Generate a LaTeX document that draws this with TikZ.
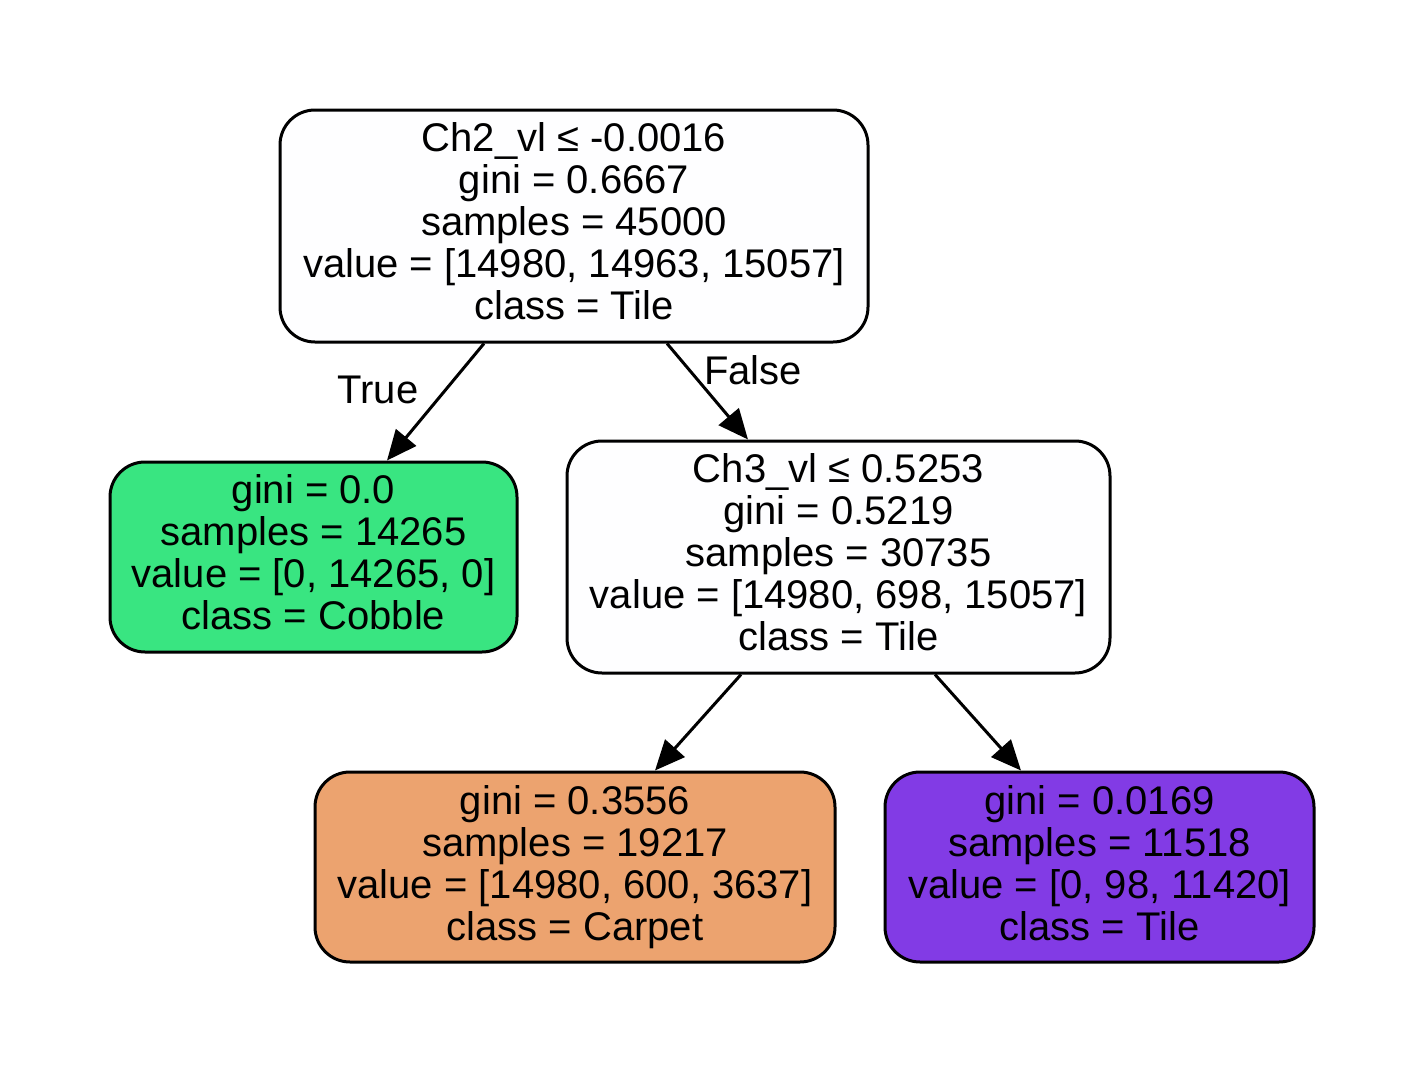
\documentclass[tikz,border=0pt]{standalone}
\usepackage{fontspec}
\setmainfont{Liberation Sans}
\usetikzlibrary{arrows.meta}
\definecolor{rootc}{RGB}{254,254,255}
\definecolor{cobblec}{RGB}{57,229,129}
\definecolor{carpetc}{RGB}{236,163,111}
\definecolor{tilec}{RGB}{130,59,229}
\tikzset{
  treenode/.style={draw=black, line width=3pt, rounded corners=35pt, align=center,
    inner sep=0pt, text depth=9pt, font=\fontsize{40}{42}\selectfont},
  edgeline/.style={line width=3pt, -{Triangle[length=30pt,width=26pt]}},
  edgelabel/.style={font=\fontsize{40}{42}\selectfont, inner sep=0pt}
}
\begin{document}
\begin{tikzpicture}[x=1pt,y=-1pt]
\path[use as bounding box, fill=white] (0,0) rectangle (1425,1073);
\node[treenode, fill=rootc, minimum width=588pt, minimum height=232pt] (root) at (574,226)
  {Ch2\_vl ≤ -0.0016\\gini = 0.6667\\samples = 45000\\value = [14980, 14963, 15057]\\class = Tile};
\node[treenode, fill=cobblec, minimum width=407pt, minimum height=190pt] (cobble) at (313.5,557)
  {gini = 0.0\\samples = 14265\\value = [0, 14265, 0]\\class = Cobble};
\node[treenode, fill=rootc, minimum width=543pt, minimum height=232pt] (mid) at (838.5,557)
  {Ch3\_vl ≤ 0.5253\\gini = 0.5219\\samples = 30735\\value = [14980, 698, 15057]\\class = Tile};
\node[treenode, fill=carpetc, minimum width=520pt, minimum height=190pt] (carpet) at (575,867)
  {gini = 0.3556\\samples = 19217\\value = [14980, 600, 3637]\\class = Carpet};
\node[treenode, fill=tilec, minimum width=429pt, minimum height=190pt] (tile) at (1099.5,867)
  {gini = 0.0169\\samples = 11518\\value = [0, 98, 11420]\\class = Tile};
\draw[edgeline] ([xshift=-90pt]root.south) -- ([xshift=73.5pt]cobble.north);
\draw[edgeline] ([xshift=93pt]root.south) -- ([xshift=-90.5pt]mid.north);
\draw[edgeline] ([xshift=-97.5pt]mid.south) -- ([xshift=80pt]carpet.north);
\draw[edgeline] ([xshift=96.5pt]mid.south) -- ([xshift=-78.5pt]tile.north);
\node[edgelabel] (truelbl) at (378,390) {True};
\node[edgelabel] (falselbl) at (753,370) {False};
\end{tikzpicture}
\end{document}
